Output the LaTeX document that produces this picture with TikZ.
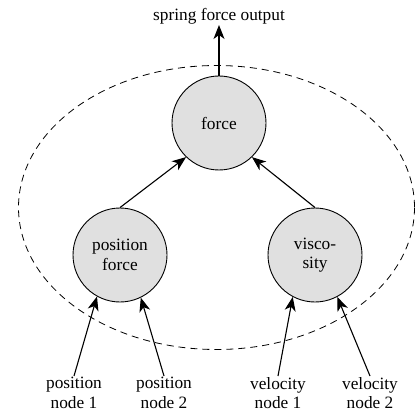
\documentclass[tikz,border=0pt]{standalone}
\usepackage{fontspec}
\setmainfont{Liberation Serif}
\usetikzlibrary{arrows.meta}
\begin{document}
\begin{tikzpicture}[x=1pt,y=-1pt,
  every node/.style={font=\fontsize{17.3}{19.5}\selectfont},
  ball/.style={circle, draw, line width=0.9pt, fill={rgb,255:red,224;green,224;blue,224}, minimum size=94pt, inner sep=0pt, align=center},
  lbl/.style={align=center, inner sep=1pt, anchor=north},
  arr/.style={line width=1.1pt, -{Stealth[length=14pt,width=11pt,inset=4pt]}}]
\useasboundingbox (0,0) rectangle (417,414);
\draw[dashed, line width=0.8pt, dash pattern=on 7pt off 5pt] (216.5,207.5) ellipse [x radius=198, y radius=142];
\node[ball] (force) at (219,123) {force};
\node[ball] (pf) at (120,255) {position\\force};
\node[ball] (visc) at (315,255) {visco-\\sity};
\node[anchor=south, inner sep=1pt] (out) at (219,25) {spring force output};
\node[lbl] (pn1) at (74,376) {position\\node 1};
\node[lbl] (pn2) at (164,376) {position\\node 2};
\node[lbl] (vn1) at (278,376) {velocity\\node 1};
\node[lbl] (vn2) at (370,376) {velocity\\node 2};
\draw[arr] (force.north) -- (out.south);
\draw[arr] (pf.north) -- (force.226);
\draw[arr] (visc.north) -- (force.314);
\draw[arr] (pn1.north) -- (pf.241);
\draw[arr] (pn2.north) -- (pf.296);
\draw[arr] (vn1.north) -- (visc.242);
\draw[arr] (vn2.north) -- (visc.298);
\end{tikzpicture}
\end{document}
